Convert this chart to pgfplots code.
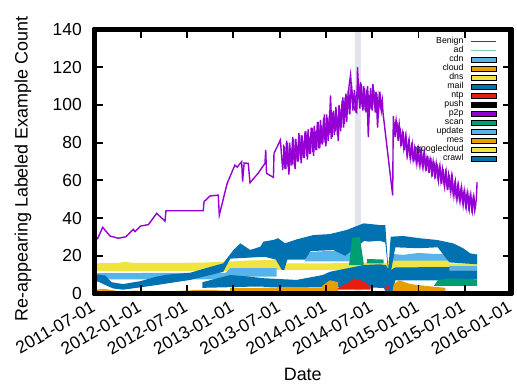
\documentclass[border=0pt]{standalone}
\usepackage{fontspec}
\setmainfont{Liberation Sans}
\usepackage{pgfplots}
\pgfplotsset{compat=1.18}
\definecolor{cviolet}{HTML}{9400D3}
\definecolor{cgreen}{HTML}{009E73}
\definecolor{csky}{HTML}{56B4E9}
\definecolor{corange}{HTML}{E69F00}
\definecolor{cyellow}{HTML}{F0E442}
\definecolor{cblue}{HTML}{0072B2}
\definecolor{cred}{HTML}{E51E10}
\definecolor{cad}{HTML}{78D2B4}
\definecolor{cband}{HTML}{E4E4EC}
\pgfplotsset{
  boxleg/.style={legend image code/.code={\fill[##1] (0bp,-2.5bp) rectangle (25.7bp,2.5bp);}},
  lineleg/.style={legend image code/.code={\draw[##1] (0bp,0bp) -- (25.7bp,0bp);}},
}
\begin{document}
\begin{tikzpicture}
\path[use as bounding box] (-94.5bp,-91.5bp) rectangle (422.5bp,293.5bp);
\begin{axis}[
  at={(0,0)}, anchor=south west,
  scale only axis, width=416.5bp, height=264bp,
  xmin=0, xmax=54, ymin=0, ymax=140,
  xtick={0,6,...,54},
  xticklabels={2011-07-01,2012-01-01,2012-07-01,2013-01-01,2013-07-01,2014-01-01,2014-07-01,2015-01-01,2015-07-01,2016-01-01},
  ytick={0,20,...,140},
  tick align=inside,
  major tick length=8.5bp,
  major tick style={black, line width=1.8bp},
  axis line style={black, line width=5.5bp, line join=round},
  axis on top,
  extra description/.code={\draw[black, line width=5.5bp, line join=round] (rel axis cs:0,0) rectangle (rel axis cs:1,1);},
  /pgf/number format/assume math mode=true,
  tick label style={font=\fontsize{17.5}{19}\selectfont},
  xticklabel style={yshift=-12bp, xshift=-1bp, rotate=30, anchor=east, inner sep=0pt},
  yticklabel style={inner sep=0pt, xshift=-12.5bp},
  xlabel={Date}, ylabel={Re-appearing Labeled Example Count},
  label style={font=\fontsize{18}{20}\selectfont},
  xlabel style={at={(axis description cs:0.5,-0.305)}, anchor=center},
  ylabel style={at={(axis description cs:-0.1717,0.4716)}, anchor=center},
  legend style={draw=none, fill=none, at={(axis description cs:1,1)}, anchor=north east,
    xshift=-13.7bp, yshift=-7.4bp, font=\fontsize{8.8}{9}\selectfont,
    row sep=0pt, column sep=6.5bp, inner sep=0pt,
    nodes={inner sep=0pt, text height=6.5bp, text depth=2.5bp}},
  legend cell align=right, legend plot pos=right,
  legend entries={Benign,ad,cdn,cloud,dns,mail,ntp,push,p2p,scan,update,mes,googlecloud,crawl},
]
% highlight band
\addplot[fill=cband, draw=none, forget plot] coordinates {(33.77,0) (34.55,0) (34.55,140) (33.77,140)} -- cycle;
% yellow (dns / googlecloud)
\addplot[fill=cyellow, draw=none, forget plot] coordinates {
 (0,16) (3,16.2) (4,16.8) (5,16.2) (10,16.2) (14,16.4) (17,16.8) (20,17.5) (23.5,17.8) (24,16)
 (30.5,16) (34,16.5) (37.8,16) (38.2,17.8) (45.7,18) (46,16) (49.6,16)
 (49.6,12.5) (38,12) (30,12.5) (24,12.5) (17,11.8) (10,11.8) (0,11.8)} -- cycle;
% light blue (cdn / update)
\addplot[fill=csky, draw=none, forget plot] coordinates {
 (0,10.8) (17,11) (17.6,13.5) (23.6,13.5) (23.6,9) (17.6,9) (17,7.5) (0,7.5)} -- cycle;
\addplot[fill=csky, draw=none, forget plot] coordinates {
 (27.3,17) (27.5,22) (30,22.5) (32,22.5) (34,22) (34.5,17)} -- cycle;
\addplot[fill=csky, draw=none, forget plot] coordinates {
 (38.5,17.5) (38.5,21) (40,20.5) (42,21.5) (44,21) (49.6,21) (49.6,17.5)} -- cycle;
\addplot[fill=csky, draw=none, forget plot] coordinates {(46,12.3) (49.6,12.3) (49.6,14.6) (46,14.6)} -- cycle;
% lower blue (mail)
\addplot[fill=cblue, draw=none, forget plot] coordinates {
 (14,6) (17.6,9.8) (20,9) (21.9,8.1) (26.2,7.2) (29.6,9.8) (30.5,11.5) (32.7,13.3) (34.9,15.1) (37,15.5)
 (37.8,15) (38.2,12) (39,13.8) (44,14) (46,14) (46,12.3) (49.6,12.3)
 (49.6,7.5) (46,7.5) (45,7) (39,7) (38.6,0) (37.9,0) (37.5,3) (30,3.5) (20,3.6) (14,3)} -- cycle;
% upper blue (crawl)
\addplot[fill=cblue, draw=none, forget plot] coordinates {
 (0,10) (0.5,10) (1.4,9.5) (2.2,6) (3.7,5) (5.9,6.5) (8.1,9) (9.4,10) (12.4,11) (14.5,13.5) (16.7,16)
 (18,23) (18.9,26.6) (20.2,23.1) (21.5,24.8) (21.9,27.5) (23.2,28.4) (23.8,29.3) (24.7,26.6) (26.2,28.7)
 (28.4,31) (30.5,31.5) (32.7,33.7) (34.9,37.2) (37,36.3) (37.7,36.3) (38.1,12.5) (38.4,30.1) (40,30.5)
 (42.2,29.3) (44.4,28.4) (46.5,26.6) (47.8,24) (48.7,21.3) (49.6,20.5)
 (49.6,15.5) (46,16.5) (44.5,24.5) (42,24) (39,24.5) (38.5,13) (38.1,11) (37.7,27) (37,28) (35.5,27.5) (35,28)
 (32.5,20) (31,23) (28,22.5) (27.3,18) (25,18) (24.6,12.5) (24.3,12.5) (23.5,18) (22,19.5) (20,19) (17.6,18.5)
 (16.7,11.5) (12.4,7.2) (8.1,4.5) (3.7,2) (2.4,2.7) (1.4,4.5) (0.5,6.3) (0,6.3)} -- cycle;
% orange (cloud / mes)
\addplot[fill=corange, draw=none, forget plot] coordinates {
 (0,0) (17.6,0) (17.6,1.5) (14,2) (10,1.2) (5,1.5) (3.5,1) (1.2,2.5) (0,2)} -- cycle;
\addplot[fill=corange, draw=none, forget plot] coordinates {
 (17.6,0) (29.5,0) (29.5,3.2) (25,3.5) (20,2.8) (17.6,3)} -- cycle;
\addplot[fill=corange, draw=none, forget plot] coordinates {
 (29.5,1) (31.6,1) (31.6,6) (30.5,7) (29.5,4)} -- cycle;
\addplot[fill=corange, draw=none, forget plot] coordinates {
 (38.6,0) (45.5,0) (45.5,3) (43,4) (41,5) (39.5,7) (38.8,5)} -- cycle;
% green (scan)
\addplot[fill=cgreen, draw=none, forget plot] coordinates {
 (33.0,15) (33.4,29.5) (34.4,30) (34.9,16) (34.9,15)} -- cycle;
\addplot[fill=cgreen, draw=none, forget plot] coordinates {
 (35.3,16) (37.5,16) (37.5,18) (35.3,18.3)} -- cycle;
\addplot[fill=cgreen, draw=none, forget plot] coordinates {
 (44,4) (49.6,4) (49.6,7.5) (46,8) (44.5,7)} -- cycle;
\addplot[fill=cgreen, draw=none, forget plot] coordinates {
 (0.8,0) (1.6,0) (1.6,1) (0.8,1)} -- cycle;
% red (ntp)
\addplot[fill=cred, draw=none, forget plot] coordinates {
 (31.6,3) (32.2,4.5) (33,6) (33.6,8) (34.5,7) (35.3,5.5) (35.8,3.5) (35.8,2) (31.6,2)} -- cycle;
\addplot[fill=cred, draw=none, forget plot] coordinates {
 (37.6,2) (38.2,2) (38.2,4) (37.6,3.5)} -- cycle;
% Benign
\addplot[cviolet, line width=1.4bp, forget plot] coordinates {
 (0.36,28.7) (1.06,35.1) (2.0,30.5) (3.09,29.3) (4.08,30.1) (5.03,34.0) (5.25,32.8) (5.99,35.8)
 (6.98,36.5) (8.06,42.5) (9.14,38.4) (9.27,43.9) (14.1,43.9) (14.2,48.7) (14.97,51.7) (16.05,52.2)
 (16.18,41.6) (17.2,58.4) (18.2,68.1) (18.5,67) (19.08,69.9) (19.2,59.3) (19.4,69.2) (19.94,69)
 (20.16,58.7) (21.2,63.7) (22.1,69) (22.2,76.1) (22.3,63.7) (23.2,61.6) (23.27,74.3) (24.1,81.4)
 (24.4,65.5) (24.6,78) (24.8,66) (25.0,80) (25.2,63) (25.4,77) (25.6,68) (25.8,82) (26.0,66)
 (26.2,79) (26.4,70) (26.6,84) (26.8,69) (27.0,81) (27.2,72) (27.4,86) (27.6,71) (27.8,83)
 (28.0,74) (28.2,88) (28.4,73) (28.6,86) (28.8,76) (29.0,91) (29.2,77) (29.4,89) (29.6,80)
 (29.8,95) (30.0,78) (30.2,93) (30.4,84) (30.6,105) (30.8,83) (31.0,97) (31.2,86) (31.4,94)
 (31.6,81) (31.8,98) (32.0,88) (32.2,104) (32.4,90) (32.6,106) (32.8,95) (33.0,110) (33.2,116)
 (33.4,104) (33.6,100) (33.8,97) (34.0,96) (34.1,120) (34.3,103) (34.5,112) (34.7,99) (34.9,110)
 (35.1,97) (35.3,108) (35.5,83) (35.7,105) (35.9,98) (36.1,111) (36.3,100) (36.5,107) (36.7,88)
 (36.9,104) (37.1,99) (37.3,103) (37.4,96) (38.66,52) (38.74,94)
 (38.9,86) (39.1,92) (39.3,84) (39.5,90) (39.7,80) (39.9,85) (40.1,77) (40.3,83) (40.5,74)
 (40.7,80) (40.9,73) (41.1,78) (41.3,71) (41.5,77) (41.7,70) (41.9,76) (42.1,69) (42.3,75)
 (42.5,68) (42.7,74) (42.9,67) (43.1,72) (43.3,66) (43.5,71) (43.7,64) (43.9,70) (44.1,63)
 (44.3,69) (44.5,62) (44.7,67) (44.9,60) (45.1,66) (45.3,59) (45.5,64) (45.7,57) (45.9,63)
 (46.1,56) (46.3,62) (46.5,53) (46.7,58) (46.9,51) (47.1,57) (47.3,50) (47.5,55) (47.7,49)
 (47.9,54) (48.1,47) (48.3,53) (48.5,46) (48.7,52) (48.9,45) (49.1,51) (49.3,44) (49.5,50) (49.6,59)};
\addplot[cviolet, line width=1.4bp, forget plot] coordinates {
 (24.5,79) (24.7,66) (24.9,81) (25.1,67) (25.3,80) (25.5,68) (25.7,83) (25.9,68) (26.1,82) (26.3,70)
 (26.5,85) (26.7,71) (26.9,84) (27.1,72) (27.3,86) (27.5,73) (27.7,87) (27.9,74) (28.1,88) (28.3,75)
 (28.5,89) (28.7,76) (28.9,91) (29.1,77) (29.3,92) (29.5,79) (29.7,93) (29.9,80) (30.1,95) (30.3,81)
 (30.5,97) (30.7,82) (30.9,96) (31.1,84) (31.3,99) (31.5,84) (31.7,100) (31.9,86) (32.1,102) (32.3,88)
 (32.5,104) (32.7,91) (32.9,108) (33.1,95) (33.3,112) (33.5,97) (33.7,108) (33.9,96) (34.2,110) (34.4,98)
 (34.6,111) (34.8,97) (35.0,109) (35.2,96) (35.4,110) (35.6,95) (35.8,109) (36.0,97) (36.2,108) (36.4,96)
 (36.6,106) (36.8,95) (37.0,107) (37.2,97) (37.35,101)};
\addplot[cviolet, line width=1.4bp, forget plot] coordinates {
 (39.0,83) (39.2,91) (39.4,81) (39.6,88) (39.8,78) (40.0,86) (40.2,76) (40.4,83) (40.6,74) (40.8,81)
 (41.0,72) (41.2,79) (41.4,70) (41.6,78) (41.8,69) (42.0,76) (42.2,68) (42.4,75) (42.6,67) (42.8,74)
 (43.0,65) (43.2,73) (43.4,64) (43.6,72) (43.8,62) (44.0,70) (44.2,61) (44.4,69) (44.6,60) (44.8,67)
 (45.0,58) (45.2,66) (45.4,57) (45.6,64) (45.8,55) (46.0,63) (46.2,54) (46.4,61) (46.6,52) (46.8,59)
 (47.0,50) (47.2,57) (47.4,49) (47.6,56) (47.8,47) (48.0,54) (48.2,46) (48.4,53) (48.6,45) (48.8,52)
 (49.0,44) (49.2,51) (49.4,45)};
\addplot[cviolet, line width=1.4bp, forget plot] coordinates {
 (24.5,70) (24.9,75) (25.3,71) (25.7,77) (26.1,72) (26.5,79) (26.9,74) (27.3,80) (27.7,76) (28.1,82)
 (28.5,78) (28.9,84) (29.3,81) (29.7,87) (30.1,84) (30.5,90) (30.9,88) (31.3,92) (31.7,89) (32.1,96)
 (32.5,94) (32.9,101) (33.3,108) (33.7,102) (34.2,108) (34.6,104) (35.0,103) (35.4,106) (35.8,101)
 (36.2,104) (36.6,100) (37.0,102) (37.3,100)};
\addplot[cviolet, line width=1.4bp, forget plot] coordinates {
 (38.8,88) (39.2,87) (39.6,84) (40.0,81) (40.4,79) (40.8,76) (41.2,75) (41.6,73) (42.0,72) (42.4,71)
 (42.8,70) (43.2,69) (43.6,67) (44.0,66) (44.4,65) (44.8,63) (45.2,62) (45.6,60) (46.0,59) (46.4,57)
 (46.8,55) (47.2,53) (47.6,52) (48.0,50) (48.4,49) (48.8,48) (49.2,47) (49.5,47)};
% legend images
\addlegendimage{lineleg, cviolet, line width=1.4bp}
\addlegendimage{lineleg, cad, line width=1.4bp}
\addlegendimage{boxleg, fill=csky}
\addlegendimage{boxleg, fill=corange}
\addlegendimage{boxleg, fill=cyellow}
\addlegendimage{boxleg, fill=cblue}
\addlegendimage{boxleg, fill=cred}
\addlegendimage{boxleg, fill=black}
\addlegendimage{boxleg, fill=cviolet}
\addlegendimage{boxleg, fill=cgreen}
\addlegendimage{boxleg, fill=csky}
\addlegendimage{boxleg, fill=corange}
\addlegendimage{boxleg, fill=cyellow}
\addlegendimage{boxleg, fill=cblue}
\end{axis}
\draw[black, line width=5.5bp, line join=round] (0bp,0bp) rectangle (416.5bp,264bp);
\end{tikzpicture}
\end{document}
